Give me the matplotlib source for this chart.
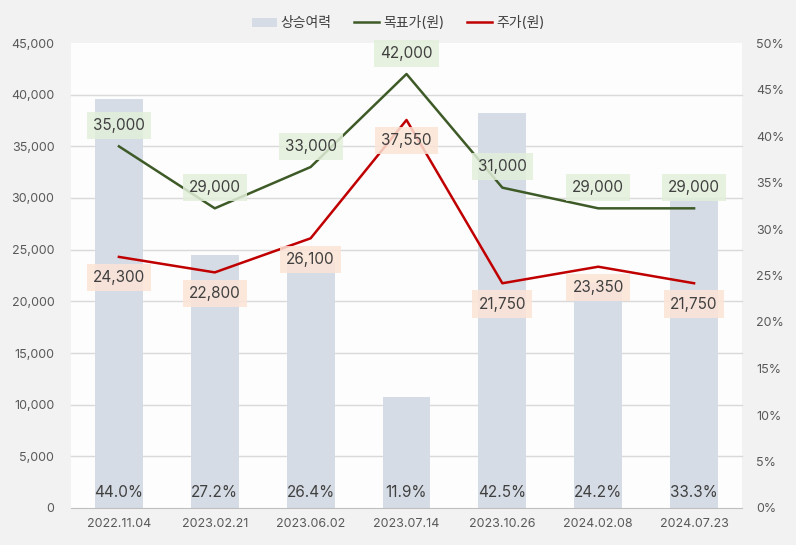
import matplotlib
matplotlib.use('Agg')
import matplotlib.pyplot as plt
import numpy as np

plt.rcParams['font.family'] = ['Inter', 'Noto Sans CJK KR', 'DejaVu Sans']

dates = ['2022.11.04', '2023.02.21', '2023.06.02', '2023.07.14',
         '2023.10.26', '2024.02.08', '2024.07.23']
upside = [44.0, 27.2, 26.4, 11.9, 42.5, 24.2, 33.3]
target = [35000, 29000, 33000, 42000, 31000, 29000, 29000]
price = [24300, 22800, 26100, 37550, 21750, 23350, 21750]

bar_color = '#d6dce5'
green = '#3d5a27'
red = '#c00000'
text_color = '#404040'
tick_color = '#595959'

fig = plt.figure(figsize=(7.96, 5.45), dpi=100, facecolor='#f2f2f2')
ax = fig.add_axes([71 / 796, 37 / 545, 671 / 796, 465 / 545])
ax.set_facecolor('#fdfdfd')
x = np.arange(len(dates))
ax2 = ax.twinx()

# bars on the percent axis (right ticks), underneath the lines
bars = ax.bar(x, upside, width=0.5, color=bar_color, zorder=2, label='상승여력')
ax.set_ylim(0, 50)
ax.set_xlim(-0.5, len(dates) - 0.5)
ax.yaxis.tick_right()
ax.set_yticks(np.arange(0, 51, 5))
ax.set_yticklabels([f'{v}%' for v in range(0, 51, 5)])
# grid follows the left (price) axis
ax.set_yticks(np.arange(0, 45001, 5000) / 45000 * 50, minor=True)
ax.grid(axis='y', which='minor', color='#d9d9d9', linewidth=1, zorder=0, clip_on=False)
ax.tick_params(axis='y', which='both', length=0, labelsize=9, colors=tick_color, pad=10)
ax.set_xticks(x)
ax.set_xticklabels(dates)
ax.tick_params(axis='x', length=0, labelsize=9, colors=tick_color, pad=7)
for s in ['top', 'left', 'right']:
    ax.spines[s].set_visible(False)
ax.spines['bottom'].set_color('#bfbfbf')

for xi, v in zip(x, upside):
    ax.text(xi, 1.7, f'{v:.1f}%', ha='center', va='center', fontsize=11,
            color=text_color, zorder=5)

ax2.set_ylim(0, 45000)
ax2.yaxis.tick_left()
ax2.set_yticks(np.arange(0, 45001, 5000))
ax2.set_yticklabels([f'{v:,}' for v in range(0, 45001, 5000)])
ax2.tick_params(axis='y', length=0, labelsize=9, colors=tick_color, pad=12)
for s in ax2.spines.values():
    s.set_visible(False)

l1, = ax2.plot(x, target, color=green, linewidth=1.8, label='목표가(원)', zorder=3)
l2, = ax2.plot(x, price, color=red, linewidth=1.8, label='주가(원)', zorder=3)

for xi, v in zip(x, target):
    ax2.annotate(f'{v:,}', (xi, v), xytext=(0, 15), textcoords='offset points',
                 ha='center', va='center', fontsize=11, color=text_color, zorder=6,
                 bbox=dict(boxstyle='square,pad=0.4', fc='#e2efda', ec='none', alpha=0.85))
for xi, v in zip(x, price):
    ax2.annotate(f'{v:,}', (xi, v), xytext=(0, -15), textcoords='offset points',
                 ha='center', va='center', fontsize=11, color=text_color, zorder=6,
                 bbox=dict(boxstyle='square,pad=0.4', fc='#fce4d6', ec='none', alpha=0.85))

fig.legend([bars, l1, l2], ['상승여력', '목표가(원)', '주가(원)'], loc='center',
           bbox_to_anchor=(0.5, 1 - 23 / 545), ncol=3, frameon=False, fontsize=10,
           labelcolor=text_color, handlelength=1.8, columnspacing=1.6,
           handletextpad=0.3, handleheight=0.6)

fig.savefig('out.png', dpi=100, facecolor=fig.get_facecolor())
